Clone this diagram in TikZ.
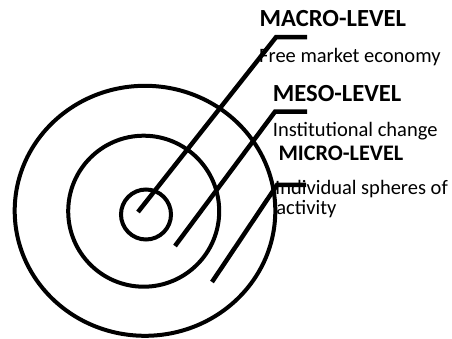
\documentclass[tikz,border=0pt]{standalone}
\usepackage{fontspec}
\setmainfont{Carlito}
\begin{document}
\begin{tikzpicture}[x=1pt,y=-1pt,
  ring/.style={line width=4pt},
  leader/.style={line width=4.5pt, line cap=butt, line join=miter},
  level/.style={anchor=base west, inner sep=0pt, font=\bfseries\fontsize{#1}{#1}\selectfont},
  level/.default=24.6,
  desc/.style={anchor=base west, inner sep=0pt, font=\fontsize{20.5}{24}\selectfont}]
\useasboundingbox (0,0) rectangle (452,339);

% concentric rings
\draw[ring] (145,210.8) ellipse [x radius=130.3pt, y radius=125pt];
\draw[ring] (143.7,211.2) circle [radius=75.5pt];
\draw[ring] (146,214.5) circle [radius=25pt];

% level headings and descriptions
\node[level] (macro) at (259.5,26.7) {MACRO-LEVEL};
\node[desc] (macrotxt) at (259,62.7) {Free market economy};
\node[level] (meso) at (272.7,101.7) {MESO-LEVEL};
\node[desc] (mesotxt) at (272.7,136.7) {Institutional change};
\node[level=22.2] (micro) at (278.3,161) {MICRO-LEVEL};
\node[desc] (microtxt) at (275,194.3) {Individual spheres of};
\node[desc] (microtxt2) at (276.2,214.5) {activity};

% leader lines from the rings to the labels
\coordinate (macroin) at (138,212);
\coordinate (macrocorner) at (276,37.2);
\coordinate (macroend) at (307,37.2);
\coordinate (mesoin) at (175,246);
\coordinate (mesocorner) at (275,111.7);
\coordinate (mesoend) at (307,111.7);
\coordinate (microin) at (212,282);
\coordinate (microcorner) at (277,185);
\coordinate (microend) at (306,185);

\draw[leader] (macroin) -- (macrocorner) -- (macroend);
\draw[leader] (mesoin) -- (mesocorner) -- (mesoend);
\draw[leader] (microin) -- (microcorner) -- (microend);
\end{tikzpicture}
\end{document}
